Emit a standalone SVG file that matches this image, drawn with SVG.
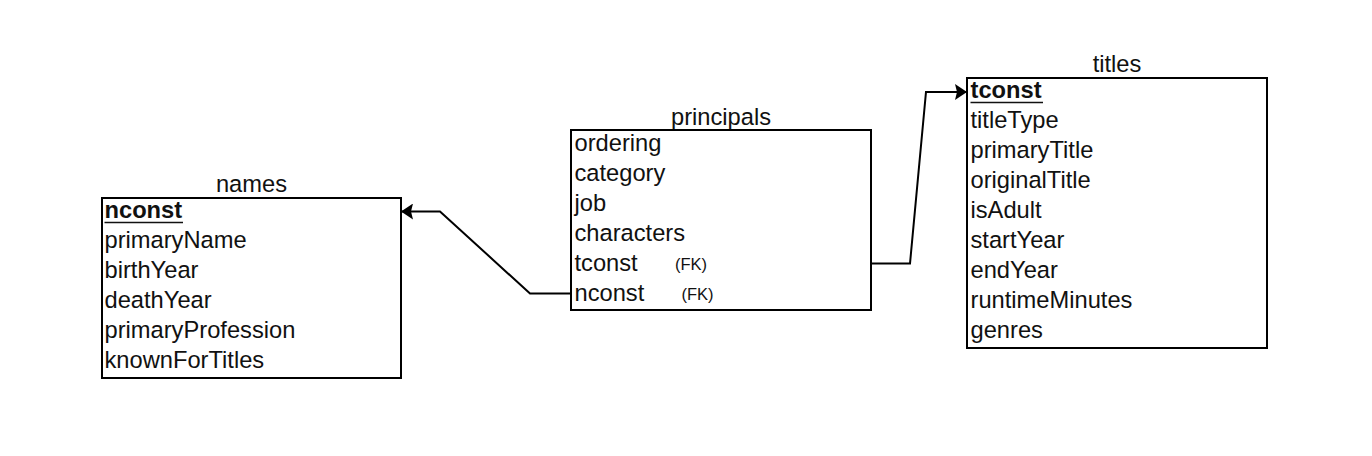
<svg xmlns="http://www.w3.org/2000/svg" width="1372" height="456" viewBox="0 0 1372 456">
<style>
.box{fill:#fff;stroke:#000;stroke-width:2}
.t{font-family:"Liberation Sans",Arial,Helvetica,sans-serif;font-size:23.7px;fill:#111}
.h{text-anchor:middle}
.b{font-weight:bold}
.fk{font-family:"Liberation Sans",Arial,Helvetica,sans-serif;font-size:16.5px;fill:#111}
.c{fill:none;stroke:#000;stroke-width:2}
.u{stroke:#111;stroke-width:1.6}
</style>
<defs>
<marker id="arr" viewBox="0 0 12 16" refX="12" refY="8" markerWidth="12" markerHeight="16" markerUnits="userSpaceOnUse" orient="auto">
<path d="M0,0 L12,8 L0,16 L2,8 Z" fill="#000"/>
</marker>
</defs>
<rect width="1372" height="456" fill="#fff"/>
<g id="connectors">
<polyline class="c" points="571,293.5 530,293.5 440,211.5 401,211.5" marker-end="url(#arr)"/>
<polyline class="c" points="871,263.5 910,263.5 926,92 967,92" marker-end="url(#arr)"/>
</g>
<g id="names">
<text class="t h" x="251.5" y="192">names</text>
<rect class="box" x="102" y="198" width="299" height="180"/>
<text class="t b" x="104.5" y="218">nconst</text>
<line class="u" x1="104.5" y1="222.5" x2="183" y2="222.5"/>
<text class="t" x="104.5" y="248">primaryName</text>
<text class="t" x="104.5" y="278">birthYear</text>
<text class="t" x="104.5" y="308">deathYear</text>
<text class="t" x="104.5" y="338">primaryProfession</text>
<text class="t" x="104.5" y="368">knownForTitles</text>
</g>
<g id="principals">
<text class="t h" x="721" y="124.5">principals</text>
<rect class="box" x="571" y="130" width="300" height="180"/>
<text class="t" x="574.5" y="151">ordering</text>
<text class="t" x="574.5" y="181">category</text>
<text class="t" x="574.5" y="211">job</text>
<text class="t" x="574.5" y="241">characters</text>
<text class="t" x="574.5" y="271">tconst</text>
<text class="fk" x="675" y="269.5">(FK)</text>
<text class="t" x="574.5" y="301">nconst</text>
<text class="fk" x="681.5" y="299.5">(FK)</text>
</g>
<g id="titles">
<text class="t h" x="1117" y="72">titles</text>
<rect class="box" x="967" y="78" width="300" height="270"/>
<text class="t b" x="970.5" y="98">tconst</text>
<line class="u" x1="970.5" y1="102.5" x2="1043" y2="102.5"/>
<text class="t" x="970.5" y="128">titleType</text>
<text class="t" x="970.5" y="158">primaryTitle</text>
<text class="t" x="970.5" y="188">originalTitle</text>
<text class="t" x="970.5" y="218">isAdult</text>
<text class="t" x="970.5" y="248">startYear</text>
<text class="t" x="970.5" y="278">endYear</text>
<text class="t" x="970.5" y="308">runtimeMinutes</text>
<text class="t" x="970.5" y="338">genres</text>
</g>
</svg>
